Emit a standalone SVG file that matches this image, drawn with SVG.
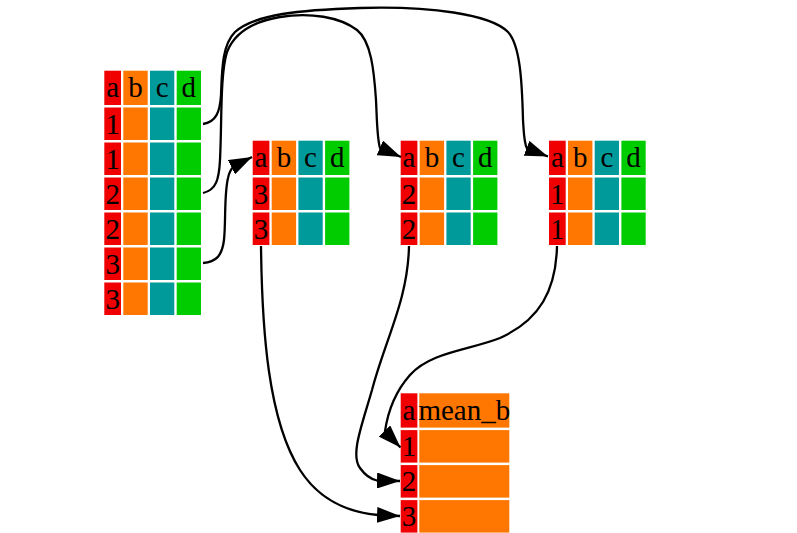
<svg xmlns="http://www.w3.org/2000/svg" width="797" height="533" viewBox="0 0 797 533">
<defs>
<style>
.ca{fill:#f00000}
.cb{fill:#ff7700}
.cc{fill:#009a9a}
.cd{fill:#00cc00}
.t{font-family:"Liberation Serif","Times New Roman",serif;font-size:29px;fill:#000;text-anchor:middle}
.e{fill:none;stroke:#000;stroke-width:2.3;marker-end:url(#ah)}
</style>
<marker id="ah" markerUnits="userSpaceOnUse" markerWidth="23" markerHeight="16" viewBox="0 0 23 16" refX="23" refY="8" orient="auto">
<path d="M0,0 L23,8 L0,16 z" fill="#000"/>
</marker>
</defs>
<rect width="797" height="533" fill="#fff"/>

<g id="table_all" transform="translate(104.3,70.7)">
<rect class="ca" x="0" y="0" width="16.7" height="34.3"/><rect class="cb" x="19" y="0" width="24.4" height="34.3"/><rect class="cc" x="45.7" y="0" width="24.3" height="34.3"/><rect class="cd" x="72.4" y="0" width="24.3" height="34.3"/>
<text class="t" x="8.35" y="26.3">a</text><text class="t" x="31.2" y="26.3">b</text><text class="t" x="57.85" y="26.3">c</text><text class="t" x="84.55" y="26.3">d</text>
<g transform="translate(0,36.8)"><rect class="ca" width="16.7" height="32.5"/><rect class="cb" x="19" width="24.4" height="32.5"/><rect class="cc" x="45.7" width="24.3" height="32.5"/><rect class="cd" x="72.4" width="24.3" height="32.5"/><text class="t" x="8.35" y="26.3">1</text></g>
<g transform="translate(0,71.8)"><rect class="ca" width="16.7" height="32.5"/><rect class="cb" x="19" width="24.4" height="32.5"/><rect class="cc" x="45.7" width="24.3" height="32.5"/><rect class="cd" x="72.4" width="24.3" height="32.5"/><text class="t" x="8.35" y="26.3">1</text></g>
<g transform="translate(0,106.8)"><rect class="ca" width="16.7" height="32.5"/><rect class="cb" x="19" width="24.4" height="32.5"/><rect class="cc" x="45.7" width="24.3" height="32.5"/><rect class="cd" x="72.4" width="24.3" height="32.5"/><text class="t" x="8.35" y="26.3">2</text></g>
<g transform="translate(0,141.8)"><rect class="ca" width="16.7" height="32.5"/><rect class="cb" x="19" width="24.4" height="32.5"/><rect class="cc" x="45.7" width="24.3" height="32.5"/><rect class="cd" x="72.4" width="24.3" height="32.5"/><text class="t" x="8.35" y="26.3">2</text></g>
<g transform="translate(0,176.8)"><rect class="ca" width="16.7" height="32.5"/><rect class="cb" x="19" width="24.4" height="32.5"/><rect class="cc" x="45.7" width="24.3" height="32.5"/><rect class="cd" x="72.4" width="24.3" height="32.5"/><text class="t" x="8.35" y="26.3">3</text></g>
<g transform="translate(0,211.8)"><rect class="ca" width="16.7" height="32.5"/><rect class="cb" x="19" width="24.4" height="32.5"/><rect class="cc" x="45.7" width="24.3" height="32.5"/><rect class="cd" x="72.4" width="24.3" height="32.5"/><text class="t" x="8.35" y="26.3">3</text></g>
</g>

<g id="table_3" transform="translate(252.7,140.7)">
<rect class="ca" x="0" y="0" width="16.7" height="34.3"/><rect class="cb" x="19" y="0" width="24.4" height="34.3"/><rect class="cc" x="45.7" y="0" width="24.3" height="34.3"/><rect class="cd" x="72.4" y="0" width="24.3" height="34.3"/>
<text class="t" x="8.35" y="26.3">a</text><text class="t" x="31.2" y="26.3">b</text><text class="t" x="57.85" y="26.3">c</text><text class="t" x="84.55" y="26.3">d</text>
<g transform="translate(0,36.8)"><rect class="ca" width="16.7" height="32.5"/><rect class="cb" x="19" width="24.4" height="32.5"/><rect class="cc" x="45.7" width="24.3" height="32.5"/><rect class="cd" x="72.4" width="24.3" height="32.5"/><text class="t" x="8.35" y="26.3">3</text></g>
<g transform="translate(0,71.8)"><rect class="ca" width="16.7" height="32.5"/><rect class="cb" x="19" width="24.4" height="32.5"/><rect class="cc" x="45.7" width="24.3" height="32.5"/><rect class="cd" x="72.4" width="24.3" height="32.5"/><text class="t" x="8.35" y="26.3">3</text></g>
</g>

<g id="table_2" transform="translate(400.7,140.7)">
<rect class="ca" x="0" y="0" width="16.7" height="34.3"/><rect class="cb" x="19" y="0" width="24.4" height="34.3"/><rect class="cc" x="45.7" y="0" width="24.3" height="34.3"/><rect class="cd" x="72.4" y="0" width="24.3" height="34.3"/>
<text class="t" x="8.35" y="26.3">a</text><text class="t" x="31.2" y="26.3">b</text><text class="t" x="57.85" y="26.3">c</text><text class="t" x="84.55" y="26.3">d</text>
<g transform="translate(0,36.8)"><rect class="ca" width="16.7" height="32.5"/><rect class="cb" x="19" width="24.4" height="32.5"/><rect class="cc" x="45.7" width="24.3" height="32.5"/><rect class="cd" x="72.4" width="24.3" height="32.5"/><text class="t" x="8.35" y="26.3">2</text></g>
<g transform="translate(0,71.8)"><rect class="ca" width="16.7" height="32.5"/><rect class="cb" x="19" width="24.4" height="32.5"/><rect class="cc" x="45.7" width="24.3" height="32.5"/><rect class="cd" x="72.4" width="24.3" height="32.5"/><text class="t" x="8.35" y="26.3">2</text></g>
</g>

<g id="table_1" transform="translate(549,140.7)">
<rect class="ca" x="0" y="0" width="16.7" height="34.3"/><rect class="cb" x="19" y="0" width="24.4" height="34.3"/><rect class="cc" x="45.7" y="0" width="24.3" height="34.3"/><rect class="cd" x="72.4" y="0" width="24.3" height="34.3"/>
<text class="t" x="8.35" y="26.3">a</text><text class="t" x="31.2" y="26.3">b</text><text class="t" x="57.85" y="26.3">c</text><text class="t" x="84.55" y="26.3">d</text>
<g transform="translate(0,36.8)"><rect class="ca" width="16.7" height="32.5"/><rect class="cb" x="19" width="24.4" height="32.5"/><rect class="cc" x="45.7" width="24.3" height="32.5"/><rect class="cd" x="72.4" width="24.3" height="32.5"/><text class="t" x="8.35" y="26.3">1</text></g>
<g transform="translate(0,71.8)"><rect class="ca" width="16.7" height="32.5"/><rect class="cb" x="19" width="24.4" height="32.5"/><rect class="cc" x="45.7" width="24.3" height="32.5"/><rect class="cd" x="72.4" width="24.3" height="32.5"/><text class="t" x="8.35" y="26.3">1</text></g>
</g>

<g id="table_summary" transform="translate(400.7,393.3)">
<rect class="ca" x="0" y="0" width="16.7" height="34.3"/><rect class="cb" x="18.6" y="0" width="90" height="34.3"/>
<text class="t" x="8.35" y="26.3">a</text><text class="t" x="63.6" y="26.3">mean_b</text>
<g transform="translate(0,36.8)"><rect class="ca" width="16.7" height="32.5"/><rect class="cb" x="18.6" width="90" height="32.5"/><text class="t" x="8.35" y="26.3">1</text></g>
<g transform="translate(0,71.8)"><rect class="ca" width="16.7" height="32.5"/><rect class="cb" x="18.6" width="90" height="32.5"/><text class="t" x="8.35" y="26.3">2</text></g>
<g transform="translate(0,106.8)"><rect class="ca" width="16.7" height="32.5"/><rect class="cb" x="18.6" width="90" height="32.5"/><text class="t" x="8.35" y="26.3">3</text></g>
</g>

<g id="connectors">
<path class="e" d="M203,124 C216,122 220,112 221,95 C222,70 222,45 235,32 C255,14 300,10 360,8 C430,6 490,14 508,32 C520,45 522,80 523,120 C524,135 524,143 527,148.5 L548,156.5"/>
<path class="e" d="M203,193 C216,190 219,180 220,160 C222,120 220,75 227,52 C234,34 250,22 280,17 C310,12 340,17 357,30 C371,41 374,70 376,100 C377,120 377,138 380,148 L401,157"/>
<path class="e" d="M203,263 C216,262 222,256 224,240 C226,220 224,195 228,178 C229,173 231,169 234,166 L252,157"/>
<path class="e" d="M261,246 C262,330 268,420 300,470 C318,498 345,512 378,515 L400,516"/>
<path class="e" d="M409,246 C408,300 385,340 372,390 C362,425 350,455 360,468 C365,475 370,479 377,480.5 L400,481"/>
<path class="e" d="M557,246 C556,290 540,320 500,338 C470,350 430,352 410,375 C395,392 388,410 385,431.5 L400.5,447.5"/>
</g>
</svg>
